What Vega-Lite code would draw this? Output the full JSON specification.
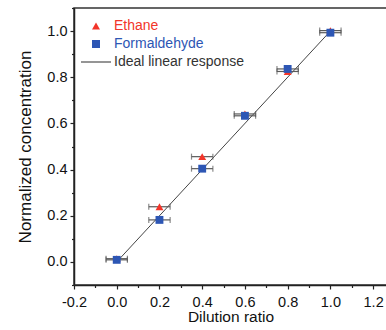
{
  "$schema": "https://vega.github.io/schema/vega-lite/v6.json",
  "width": 313,
  "height": 277,
  "autosize": {"type": "none"},
  "padding": {"left": 74, "top": 8, "right": 0, "bottom": 45},
  "background": "white",
  "config": {
    "view": {"stroke": "#333", "strokeWidth": 1.5},
    "font": "Liberation Sans",
    "axis": {
      "grid": false,
      "domainColor": "#222",
      "domainWidth": 1.5,
      "tickColor": "#222",
      "tickWidth": 1.2,
      "labelColor": "#111",
      "labelFont": "Liberation Sans",
      "labelFontSize": 14.5,
      "titleFont": "Liberation Sans",
      "titleFontWeight": "normal",
      "titleColor": "#111",
      "tickCount": 50
    }
  },
  "datasets": {
    "pts": [
      {"series": "Ethane", "x": 0.0, "y": 0.014, "xlo": -0.05, "xhi": 0.05},
      {"series": "Ethane", "x": 0.2, "y": 0.239, "xlo": 0.15, "xhi": 0.25},
      {"series": "Ethane", "x": 0.4, "y": 0.456, "xlo": 0.35, "xhi": 0.45},
      {"series": "Ethane", "x": 0.6, "y": 0.641, "xlo": 0.55, "xhi": 0.65},
      {"series": "Ethane", "x": 0.8, "y": 0.825, "xlo": 0.75, "xhi": 0.85},
      {"series": "Ethane", "x": 1.0, "y": 1.002, "xlo": 0.95, "xhi": 1.05},
      {"series": "Formaldehyde", "x": 0.0, "y": 0.009, "xlo": -0.05, "xhi": 0.05},
      {"series": "Formaldehyde", "x": 0.2, "y": 0.182, "xlo": 0.15, "xhi": 0.25},
      {"series": "Formaldehyde", "x": 0.4, "y": 0.404, "xlo": 0.35, "xhi": 0.45},
      {"series": "Formaldehyde", "x": 0.6, "y": 0.633, "xlo": 0.55, "xhi": 0.65},
      {"series": "Formaldehyde", "x": 0.8, "y": 0.836, "xlo": 0.75, "xhi": 0.85},
      {"series": "Formaldehyde", "x": 1.0, "y": 0.993, "xlo": 0.95, "xhi": 1.05}
    ],
    "ideal": [
      {"x": 0, "y": 0},
      {"x": 1, "y": 1}
    ]
  },
  "layer": [
    {
      "data": {"name": "ideal"},
      "mark": {"type": "line", "color": "#444", "strokeWidth": 1},
      "encoding": {
        "x": {
          "field": "x", "type": "quantitative",
          "scale": {"domain": [-0.2, 1.265], "nice": false, "zero": false},
          "axis": {
            "title": "Dilution ratio",
            "titleFontSize": 15.5,
            "titlePadding": 1,
            "values": [-0.2, -0.1, 0, 0.1, 0.2, 0.3, 0.4, 0.5, 0.6, 0.7, 0.8, 0.9, 1.0, 1.1, 1.2],
            "tickCount": 50,
            "labelExpr": "abs(round(datum.value*10)) % 2 == 0 ? replace(format(datum.value, '.1f'), '\u2212', '-') : ''",
            "tickSize": {"condition": {"test": "abs(round(datum.value*10)) % 2 == 0", "value": 4}, "value": 2.5},
            "labelPadding": 6,
            "labelFlush": false,
            "labelOverlap": false
          }
        },
        "y": {
          "field": "y", "type": "quantitative",
          "scale": {"domain": [-0.1, 1.1], "nice": false, "zero": false},
          "axis": {
            "title": "Normalized concentration",
            "titleFontSize": 17,
            "titlePadding": 12,
            "values": [-0.1, 0, 0.1, 0.2, 0.3, 0.4, 0.5, 0.6, 0.7, 0.8, 0.9, 1.0, 1.1],
            "tickCount": 50,
            "labelExpr": "abs(round(datum.value*10)) % 2 == 0 ? replace(format(datum.value, '.1f'), '\u2212', '-') : ''",
            "tickSize": {"condition": {"test": "abs(round(datum.value*10)) % 2 == 0", "value": 4}, "value": 2.5},
            "labelPadding": 3,
            "labelFlush": false,
            "labelOverlap": false
          }
        }
      }
    },
    {
      "data": {"name": "pts"},
      "mark": {"type": "errorbar", "ticks": true, "size": 6, "thickness": 1.2, "color": "#5a5a5a"},
      "encoding": {
        "x": {"field": "xlo", "type": "quantitative", "title": "Dilution ratio"},
        "x2": {"field": "xhi"},
        "y": {"field": "y", "type": "quantitative", "title": "Normalized concentration"}
      }
    },
    {
      "data": {"name": "pts"},
      "mark": {"type": "point", "filled": true, "size": 62, "opacity": 1},
      "encoding": {
        "x": {"field": "x", "type": "quantitative", "title": "Dilution ratio"},
        "y": {"field": "y", "type": "quantitative", "title": "Normalized concentration"},
        "color": {
          "field": "series", "type": "nominal",
          "scale": {"domain": ["Ethane", "Formaldehyde", "Ideal linear response"], "range": ["#f2352a", "#2d56b4", "#333333"]},
          "legend": {
            "title": null,
            "orient": "none",
            "legendX": 15,
            "legendY": 11,
            "padding": 0,
            "labelFont": "Liberation Sans",
            "labelFontSize": 14,
            "labelColor": {"expr": "scale('color', datum.value)"},
            "symbolSize": 64,
            "symbolOpacity": 1,
            "labelOffset": 11,
            "rowPadding": 4
          }
        },
        "shape": {
          "field": "series", "type": "nominal",
          "scale": {"domain": ["Ethane", "Formaldehyde", "Ideal linear response"], "range": ["triangle-up", "square", "M-3.75,-0.13H3.75V0.13H-3.75Z"]}
        }
      }
    }
  ]
}
